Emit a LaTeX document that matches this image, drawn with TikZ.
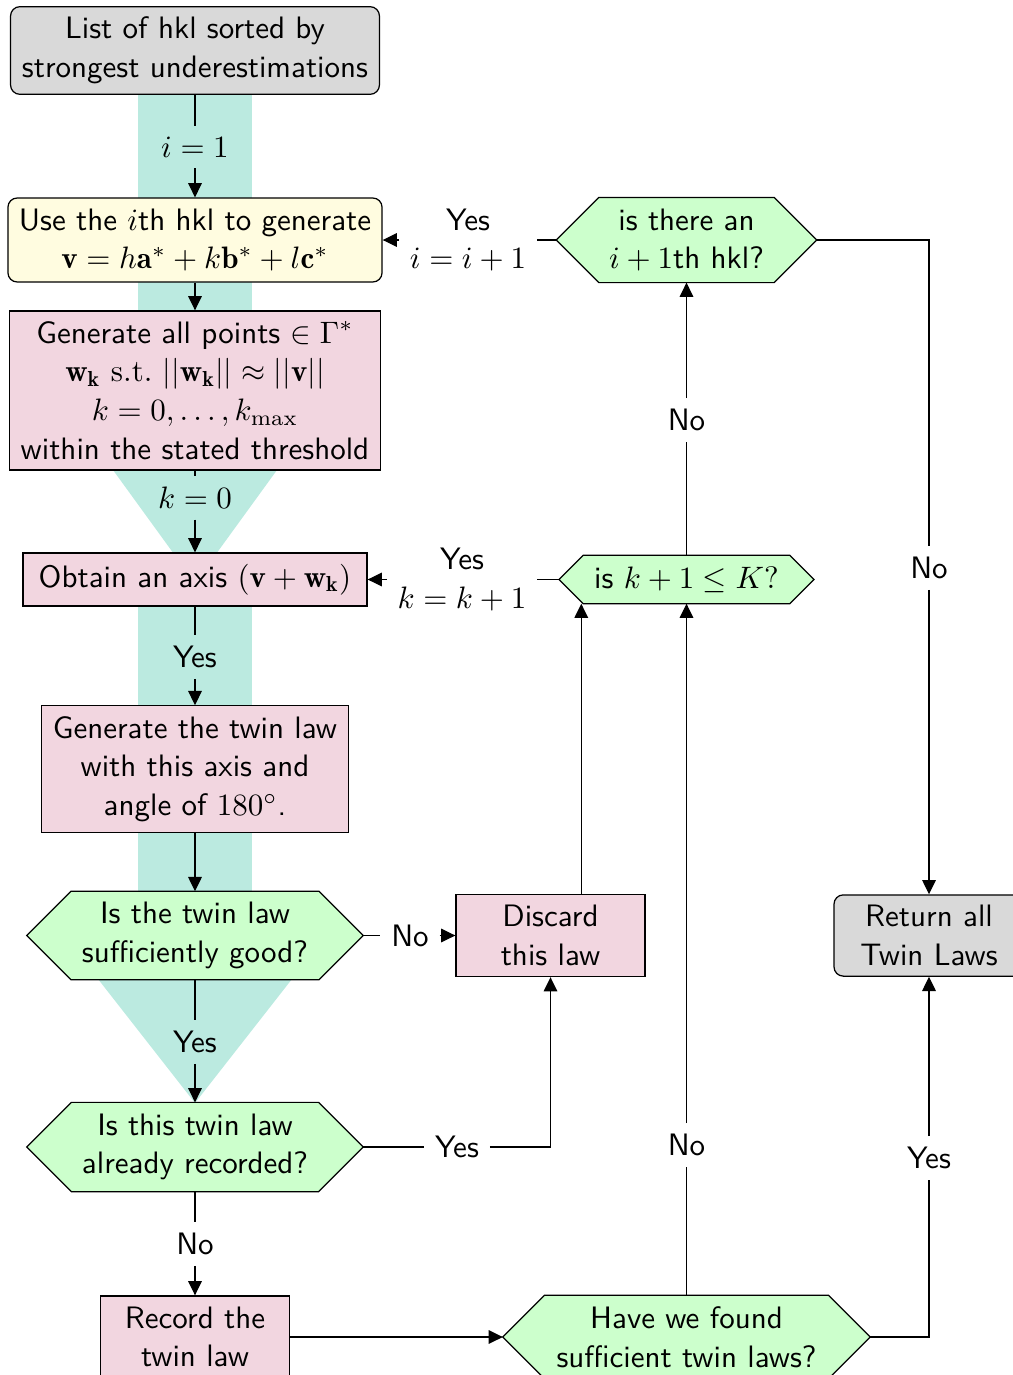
\documentclass[tikz,border=0pt]{standalone}
\usepackage{fontspec}
\usetikzlibrary{arrows.meta,calc}
\pgfdeclarelayer{band}
\pgfdeclarelayer{frames}
\pgfsetlayers{band,frames,main}

\definecolor{termgray}{RGB}{217,217,217}
\definecolor{startyellow}{RGB}{255,252,224}
\definecolor{procpink}{RGB}{242,214,224}
\definecolor{askgreen}{RGB}{204,255,204}
\definecolor{pathteal}{RGB}{187,234,224}

\tikzset{
  base/.style={font=\sffamily\fontsize{10}{12.5}\selectfont, align=center, inner sep=3.33pt},
  term/.style={base, draw, fill=termgray, rounded corners=3pt},
  startbox/.style={base, draw, fill=startyellow, rounded corners=3pt},
  proc/.style={base, draw, fill=procpink},
  ask/.style={base},
  askframe/.style={draw, fill=askgreen},
  lbl/.style={base},
  arr/.style={-{Triangle[length=4.6pt,width=4.4pt]}},
}

% hexagonal frame with 45 degree ends, drawn behind a text node
\newcommand\hexframe[1]{%
  \begin{pgfonlayer}{frames}
    \path[askframe] let \p1=(#1.north), \p2=(#1.center), \n1={\y1-\y2} in
      (#1.west) -- ([xshift=\n1]#1.north west) -- ([xshift=-\n1]#1.north east)
      -- (#1.east) -- ([xshift=-\n1]#1.south east) -- ([xshift=\n1]#1.south west) -- cycle;
  \end{pgfonlayer}}

\begin{document}
\begin{tikzpicture}[x=0.3226pt, y=-0.3226pt]
\useasboundingbox (0,0) rectangle (1013,1375);

% ---- nodes, left column
\node[term, minimum width=119pt, minimum height=28.1pt] (start) at (195,50.5)
  {List of hkl sorted by\\strongest underestimations};
\node[startbox, minimum width=120.7pt, minimum height=27.1pt] (use) at (195,240)
  {Use the $i$th hkl to generate\\$\mathbf{v}=h\mathbf{a}^*+k\mathbf{b}^*+l\mathbf{c}^*$};
\node[proc, minimum width=119.7pt, minimum height=51.3pt] (gen) at (195,390.5)
  {Generate all points $\in\Gamma^*$\\
   $\mathbf{w_k}\ \mathrm{s.t.}\ ||\mathbf{w_k}||\approx||\mathbf{v}||$\\
   $k=0,\dots,k_{\max}$\\within the stated threshold};
\node[proc, minimum width=111pt, minimum height=17.1pt] (obtain) at (195,579.5)
  {Obtain an axis $(\mathbf{v}+\mathbf{w_k})$};
\node[proc, minimum width=99pt, minimum height=40.6pt] (gentwin) at (195,769)
  {Generate the twin law\\with this axis and\\angle of $180^\circ$.};
\node[ask, minimum width=108.1pt, minimum height=28.1pt] (good) at (195,935.5)
  {Is the twin law\\sufficiently good?};
\node[ask, minimum width=108.1pt, minimum height=28.4pt] (known) at (195,1147)
  {Is this twin law\\already recorded?};
\node[proc, minimum width=61pt, minimum height=26.5pt] (record) at (195,1337)
  {Record the\\twin law};

% ---- nodes, right part
\node[proc, minimum width=61pt, minimum height=26.5pt] (discard) at (550.5,935.5)
  {Discard\\this law};
\node[ask, minimum width=83.6pt, minimum height=27.1pt] (nexthkl) at (686.5,240)
  {is there an\\$i+1$th hkl?};
\node[ask, minimum width=81.9pt, minimum height=15.2pt] (nextk) at (686.5,579.5)
  {is $k+1\leq K?$};
\node[term, minimum width=61.3pt, minimum height=26.1pt] (return) at (929,935.5)
  {Return all\\Twin Laws};
\node[ask, minimum width=118.1pt, minimum height=26.5pt] (enough) at (686.5,1337)
  {Have we found\\sufficient twin laws?};

\hexframe{good}
\hexframe{known}
\hexframe{nexthkl}
\hexframe{nextk}
\hexframe{enough}

% ---- highlighted main path
\begin{pgfonlayer}{band}
  \fill[pathteal] (138,94) rectangle (252,470);
  \fill[pathteal] (113,470) -- (277,470) -- (195,583) -- cycle;
  \fill[pathteal] (138,583) rectangle (252,979);
  \fill[pathteal] (98,979) -- (292,979) -- (195,1103) -- cycle;
\end{pgfonlayer}

% ---- connector labels
\node[lbl] (li1) at (195,147) {$i=1$};
\node[lbl] (lk0) at (195,498) {$k=0$};
\node[lbl] (lyesaxis) at (195,657) {Yes};
\node[lbl] (lyesgood) at (195,1042) {Yes};
\node[lbl] (lnoknown) at (195,1244) {No};
\node[lbl] (lnogood) at (410,935.5) {No};
\node[lbl] (lyesknown) at (457,1147) {Yes};
\node[lbl] (lnoenough) at (686.5,1145) {No};
\node[lbl] (lyesenough) at (929,1158) {Yes};
\node[lbl] (lnok) at (686.5,420) {No};
\node[lbl] (lnohkl) at (929,568) {No};
\node[lbl] (lyeshkl) at (468,240) {Yes\\$i=i+1$};
\node[lbl] (lyesk) at (462,579.5) {Yes\\$k=k+1$};

% ---- connectors
\draw (start) -- (li1);
\draw[arr] (li1) -- (use);
\draw[arr] (use) -- (gen);
\draw (gen) -- (lk0);
\draw[arr] (lk0) -- (obtain);
\draw (obtain) -- (lyesaxis);
\draw[arr] (lyesaxis) -- (gentwin);
\draw[arr] (gentwin) -- (good.north);
\draw (good.south) -- (lyesgood);
\draw[arr] (lyesgood) -- (known.north);
\draw (known.south) -- (lnoknown);
\draw[arr] (lnoknown) -- (record);

\draw (good.east) -- (lnogood);
\draw[arr] (lnogood) -- (discard.west);
\draw (known.east) -- (lyesknown);
\draw[arr] (lyesknown) -| (discard.south);
\coordinate (kcorner) at ([xshift=7.2pt]nextk.south west);
\draw[arr] (discard.north -| kcorner) -- (kcorner);

\draw[arr] (record.east) -- (enough.west);
\draw (enough.north) -- (lnoenough);
\draw[arr] (lnoenough) -- (nextk.south);
\draw (enough.east) -| (lyesenough);
\draw[arr] (lyesenough) -- (return.south);

\draw (nextk.west) -- (lyesk);
\draw[arr] (lyesk) -- (obtain.east);
\draw (nextk.north) -- (lnok);
\draw[arr] (lnok) -- (nexthkl.south);
\draw (nexthkl.west) -- (lyeshkl);
\draw[arr] (lyeshkl) -- (use.east);
\draw (nexthkl.east) -| (lnohkl);
\draw[arr] (lnohkl) -- (return.north);
\end{tikzpicture}
\end{document}
